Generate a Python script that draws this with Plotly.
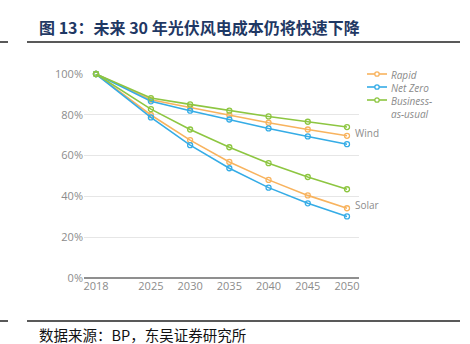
import plotly.graph_objects as go

years = [2018, 2025, 2030, 2035, 2040, 2045, 2050]
x_ticks = [2018, 2025, 2030, 2035, 2040, 2045, 2050]

wind_rapid = [100, 87.4, 83.6, 79.9, 76.1, 72.8, 69.7]
wind_netzero = [100, 86.6, 82.0, 77.7, 73.3, 69.4, 65.6]
wind_bau = [100, 88.2, 85.1, 82.0, 79.2, 76.6, 74.0]

solar_rapid = [100, 79.9, 67.6, 56.9, 48.1, 40.5, 34.2]
solar_netzero = [100, 78.7, 65.1, 53.8, 44.3, 36.6, 30.2]
solar_bau = [100, 82.8, 72.8, 64.1, 56.3, 49.5, 43.5]

scenarios = ["Rapid", "Net Zero", "Business-<br>as-usual"]
colors = ["#F8B35E", "#35ACE6", "#8DC641"]

fig = go.Figure()
wind = [wind_rapid, wind_netzero, wind_bau]
solar = [solar_rapid, solar_netzero, solar_bau]

for i in range(3):
    for series in (wind[i], solar[i]):
        fig.add_trace(go.Scatter(
            x=years, y=series, mode="lines+markers",
            name=scenarios[i], showlegend=False,
            line=dict(color=colors[i], width=1.6),
            marker=dict(symbol="circle-open", size=5, color=colors[i], line=dict(width=1.3)),
            cliponaxis=False,
        ))

L, R, T, B = 84, 111, 74, 66
W, H = 470, 344
pw, ph = W - L - R, H - T - B

def px_x(px):
    return (px - L) / pw

def px_y(py):
    return (H - B - py) / ph

fig.update_layout(
    width=W, height=H,
    margin=dict(l=L, r=R, t=T, b=B),
    paper_bgcolor="white", plot_bgcolor="white",
    showlegend=False,
    xaxis=dict(range=[2016.47, 2051.53], tickvals=x_ticks, ticktext=[str(v) for v in x_ticks],
               showgrid=False, zeroline=False, showline=False,
               tickfont=dict(family="Open Sans", size=11, color="#8c8c8c"), ticks=""),
    yaxis=dict(range=[0, 100], tickvals=[0, 20, 40, 60, 80, 100],
               ticktext=["0%", "20%", "40%", "60%", "80%", "100%"],
               showgrid=True, gridcolor="#e6e6e6", gridwidth=1,
               zeroline=True, zerolinecolor="#8f8f8f", zerolinewidth=1.5,
               showline=False, ticks="",
               tickfont=dict(family="Open Sans", size=11, color="#8c8c8c")),
    font=dict(family="Open Sans"),
)

# manual legend: one text block (line height 13px), symbols beside each entry
legend_y = [74, 87, 100]
for i in range(3):
    yy = px_y(legend_y[i])
    fig.add_shape(type="line", xref="paper", yref="paper",
                  x0=px_x(367), x1=px_x(387), y0=yy, y1=yy,
                  line=dict(color=colors[i], width=1.6))
    fig.add_shape(type="circle", xref="paper", yref="paper",
                  x0=px_x(374.8), x1=px_x(379.2), y0=px_y(legend_y[i] + 2.2), y1=px_y(legend_y[i] - 2.2),
                  fillcolor="white", line=dict(color=colors[i], width=1.3))
legend_text = "<br>".join("<i>%s</i>" % p for s in scenarios for p in s.split("<br>"))
fig.add_annotation(x=px_x(390), y=px_y(74 - 6.5), xref="paper", yref="paper",
                   text=legend_text, showarrow=False, borderpad=0,
                   xanchor="left", yanchor="top", align="left",
                   font=dict(family="Open Sans", size=10, color="#8a8a8a"))

fig.add_annotation(x=2050, y=wind_rapid[-1], xref="x", yref="y", text="Wind", showarrow=False,
                   xanchor="left", xshift=6, yshift=3,
                   font=dict(family="Open Sans", size=10, color="#8c8c8c"))
fig.add_annotation(x=2050, y=solar_rapid[-1], xref="x", yref="y", text="Solar", showarrow=False,
                   xanchor="left", xshift=6, yshift=3,
                   font=dict(family="Open Sans", size=10, color="#8c8c8c"))

fig.add_annotation(x=px_x(37), y=px_y(27), xref="paper", yref="paper",
                   text="<b>图 13：未来 30 年光伏风电成本仍将快速下降</b>", showarrow=False,
                   xanchor="left", yanchor="middle",
                   font=dict(family="Noto Sans CJK SC", size=16, color="#1F3864"))
fig.add_annotation(x=px_x(37), y=px_y(334), xref="paper", yref="paper",
                   text="数据来源：BP，东吴证券研究所", showarrow=False,
                   xanchor="left", yanchor="middle",
                   font=dict(family="Noto Sans CJK SC", size=14.5, color="#111111"))

for py in (42, 321):
    fig.add_shape(type="line", xref="paper", yref="paper",
                  x0=px_x(27), x1=px_x(460), y0=px_y(py), y1=px_y(py),
                  line=dict(color="#222222", width=1.5))
    fig.add_shape(type="line", xref="paper", yref="paper",
                  x0=px_x(0), x1=px_x(8), y0=px_y(py), y1=px_y(py),
                  line=dict(color="#222222", width=1.5))

fig.write_html("out.html")
